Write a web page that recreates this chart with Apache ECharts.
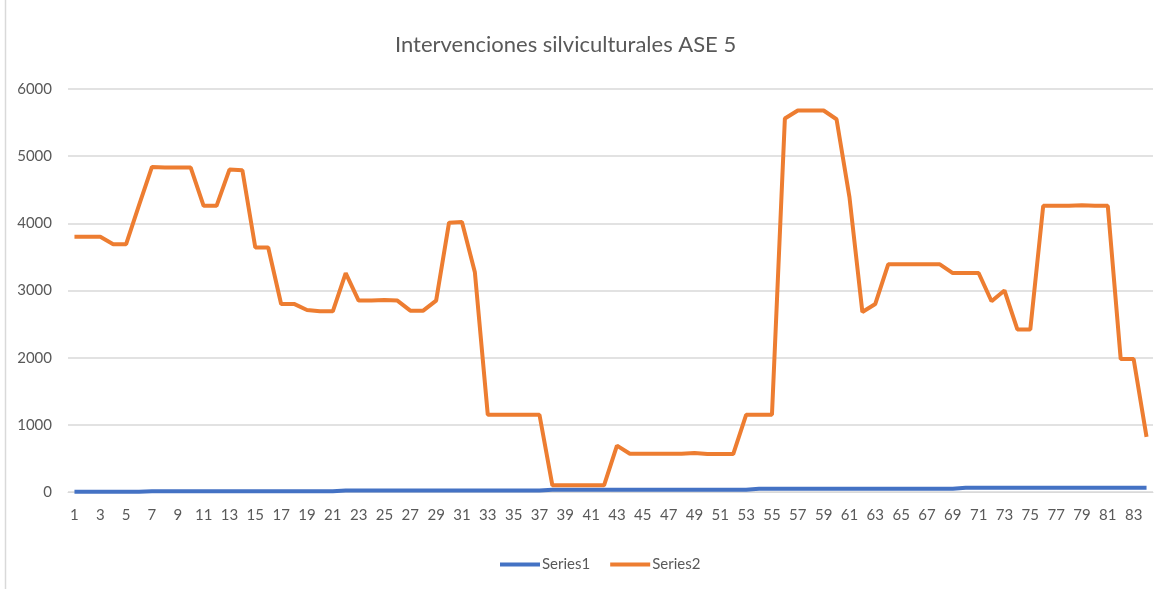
<!DOCTYPE html>
<html>
<head>
<meta charset="utf-8">
<script src="https://cdn.jsdelivr.net/npm/echarts@6/dist/echarts.min.js"></script>
<style>
  html, body { margin: 0; padding: 0; background: #fff; }
  #chart { width: 1169px; height: 589px; }
</style>
</head>
<body>
<div id="chart"></div>
<script>
// categorias 1..84
var categorias = ['1','2','3','4','5','6','7','8','9','10','11','12','13','14','15','16','17','18','19','20',
  '21','22','23','24','25','26','27','28','29','30','31','32','33','34','35','36','37','38','39','40',
  '41','42','43','44','45','46','47','48','49','50','51','52','53','54','55','56','57','58','59','60',
  '61','62','63','64','65','66','67','68','69','70','71','72','73','74','75','76','77','78','79','80',
  '81','82','83','84'];

var series1 = [3,3,3,3,3,3,12,12,12,12,12,12,12,12,12,12,12,12,12,12,
  12,22,22,22,22,22,22,22,22,22,22,22,22,22,22,22,22,33,33,33,
  33,33,33,33,33,33,33,33,33,33,33,33,33,48,48,48,48,48,48,48,
  48,48,48,48,48,48,48,48,48,65,65,65,65,65,65,65,65,65,65,65,
  65,65,65,65];

var series2 = [3800,3800,3800,3690,3690,4270,4840,4830,4830,4830,4260,4260,4800,4790,3640,3640,2800,2800,2710,2690,
  2690,3260,2850,2850,2860,2850,2700,2700,2850,4010,4020,3270,1150,1150,1150,1150,1150,100,100,100,
  100,100,690,570,570,570,570,570,580,565,565,565,1150,1150,1150,5560,5680,5680,5680,5550,
  4390,2680,2800,3390,3390,3390,3390,3390,3260,3260,3260,2840,3000,2420,2420,4260,4260,4260,4270,4260,
  4260,1980,1980,820];

var myChart = echarts.init(document.getElementById('chart'));

var option = {
    backgroundColor: '#fff',
    textStyle: { fontFamily: 'Lato' },
    title: {
        text: 'Intervenciones silviculturales ASE 5',
        left: 390,
        top: 29,
        textStyle: {
            color: '#595959',
            fontSize: 22,
            fontWeight: 'normal',
            fontFamily: 'Lato'
        }
    },
    legend: {
        data: ['Series1', 'Series2'],
        bottom: 12,
        left: 495,
        icon: 'rect',
        itemWidth: 40,
        itemHeight: 4,
        itemGap: 20,
        textStyle: { color: '#595959', fontSize: 15, fontFamily: 'Lato', padding: [0, 0, 0, -3] }
    },
    grid: {
        left: 68,
        right: 16,
        top: 89,
        bottom: 97
    },
    xAxis: {
        type: 'category',
        data: categorias,
        boundaryGap: true,
        axisLine: { lineStyle: { color: '#d9d9d9', width: 1 } },
        axisTick: { show: false },
        axisLabel: {
            interval: 1,
            color: '#595959',
            fontSize: 15,
            margin: 16
        }
    },
    yAxis: {
        type: 'value',
        min: 0,
        max: 6000,
        interval: 1000,
        axisLine: { show: false },
        axisTick: { show: false },
        axisLabel: {
            color: '#595959',
            fontSize: 15,
            margin: 16,
            formatter: function (v) { return String(v); }
        },
        splitLine: { lineStyle: { color: '#d9d9d9', width: 1.5 } }
    },
    series: [
        {
            name: 'Series1',
            type: 'line',
            data: series1,
            symbol: 'none',
            color: '#4472C4',
            lineStyle: { width: 4, color: '#4472C4' }
        },
        {
            name: 'Series2',
            type: 'line',
            data: series2,
            symbol: 'none',
            color: '#ED7D31',
            lineStyle: { width: 4, color: '#ED7D31' }
        }
    ],
    graphic: [
        {
            type: 'line',
            shape: { x1: 5.5, y1: 0, x2: 5.5, y2: 589 },
            style: { stroke: '#d9d9d9', lineWidth: 1.5 }
        }
    ]
};

myChart.setOption(option);
</script>
</body>
</html>
